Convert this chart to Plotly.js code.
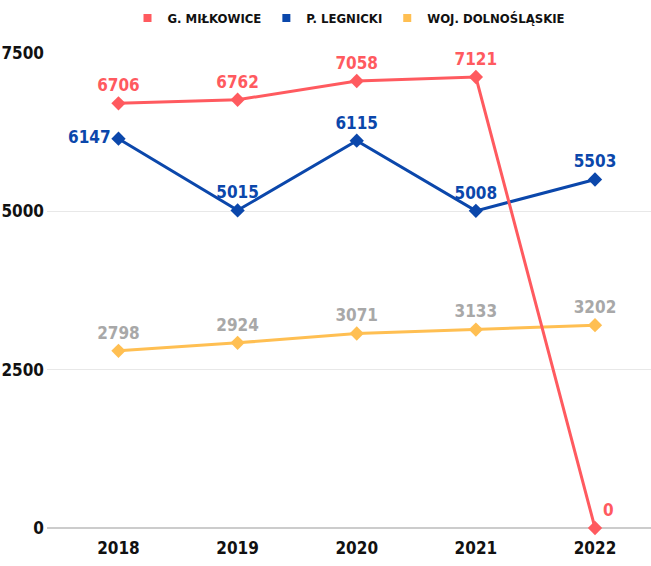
<!DOCTYPE html>
<html><head><meta charset="utf-8">
<script src="https://cdn.plot.ly/plotly-3.0.1.min.js"></script>
<style>html,body{margin:0;padding:0;background:#fff}#c{width:651px;height:566px}</style>
</head><body><div id="c"></div>
<script>
const years = ['2018','2019','2020','2021','2022'];
const milkowice = [6706, 6762, 7058, 7121, 0];
const legnicki = [6147, 5015, 6115, 5008, 5503];
const dolnoslaskie = [2798, 2924, 3071, 3133, 3202];
const names = ['G. MIŁKOWICE', 'P. LEGNICKI', 'WOJ. DOLNOŚLĄSKIE'];
const colors = ['#ff5a5f', '#0b47ab', '#ffbf52'];
const labelColors = ['#ff5a5f', '#0b47ab', '#a8a8a8'];
const FONT = '"DejaVu Sans Condensed", "DejaVu Sans", sans-serif';
const mk = (size, color) => ({family: FONT, size: size, color: color, weight: 'bold', stretch: 'condensed'});

const series = [milkowice, legnicki, dolnoslaskie];
const positions = [
  ['top center','top center','top center','top center','top right'],
  ['middle left','top center','top center','top center','top center'],
  ['top center','top center','top center','top center','top center']
];
const traces = [];
[2,1,0].forEach(i => {
  traces.push({
    x: years, y: series[i], type: 'scatter', mode: 'lines+markers+text',
    text: series[i].map(String), textposition: positions[i],
    textfont: mk(17, labelColors[i]),
    line: {color: colors[i], width: 3},
    marker: {symbol: 'diamond', size: 11, color: colors[i]},
    cliponaxis: false, showlegend: false, hoverinfo: 'skip'
  });
});
names.forEach((n, i) => {
  traces.push({
    x: [null], y: [null], type: 'scatter', mode: 'markers', name: n,
    marker: {symbol: 'square', size: 8, color: colors[i]}, showlegend: true
  });
});

const layout = {
  width: 651, height: 566,
  margin: {l: 47, r: 0, t: 53, b: 38, autoexpand: false},
  paper_bgcolor: '#fff', plot_bgcolor: '#fff',
  font: mk(17, '#111'),
  showlegend: true,
  legend: {orientation: 'h', x: 0.5, xanchor: 'center', yref: 'container', y: 1 - 18/566, yanchor: 'middle',
    font: mk(13, '#111'), itemwidth: 30, tracegroupgap: 0},
  xaxis: {type: 'category', range: [-0.6, 4.47], showgrid: false, zeroline: false,
    showline: false, ticks: '', ticklabelstandoff: 8, tickfont: mk(17, '#111'), fixedrange: true},
  yaxis: {range: [0, 7500], tickvals: [0, 2500, 5000, 7500], ticktext: ['0','2500','5000','7500'],
    showgrid: true, gridcolor: '#e8e8e8', gridwidth: 1, zeroline: true, zerolinecolor: '#cccccc', zerolinewidth: 1.5,
    showline: false, ticks: '', ticklabelstandoff: 2,
    tickfont: mk(17, '#111'), fixedrange: true}
};
Plotly.newPlot('c', traces, layout, {displayModeBar: false, staticPlot: true});
</script></body></html>
